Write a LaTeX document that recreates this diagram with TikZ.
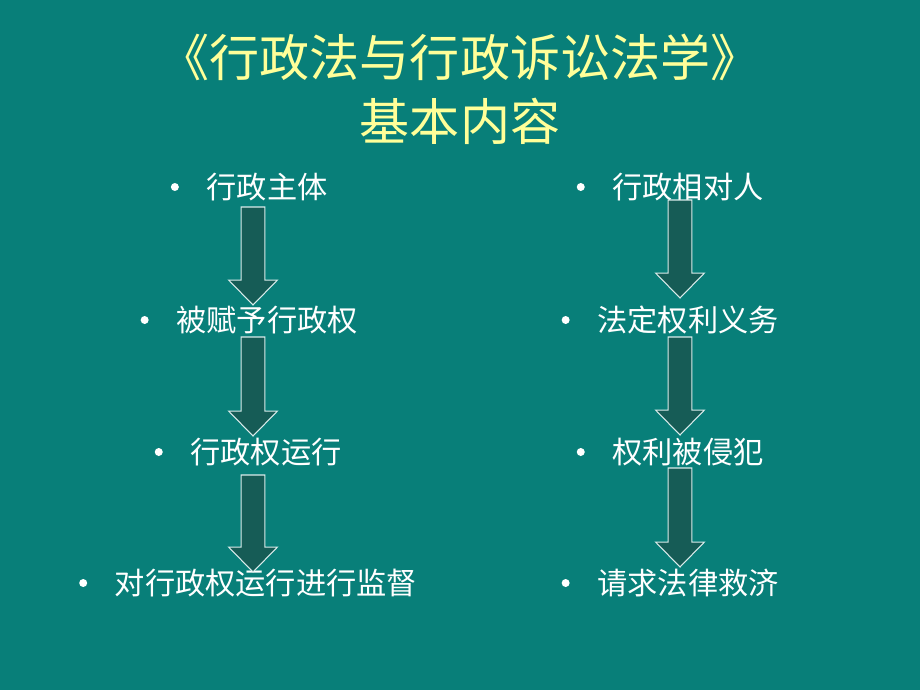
\documentclass[tikz,border=0pt]{standalone}
\usepackage{fontspec}
\newfontfamily\cjk{Noto Sans CJK SC}
\usepackage{tikz}
\usetikzlibrary{positioning,calc}

\definecolor{slidebg}{RGB}{8,127,121}
\definecolor{arrowfill}{RGB}{22,92,86}
\definecolor{titleyellow}{RGB}{255,255,153}

\tikzset{
  titletext/.style={text=titleyellow,font=\cjk\fontsize{28.5pt}{34pt}\selectfont,inner sep=0pt},
  itemtext/.style={text=white,font=\cjk\fontsize{17.2pt}{20pt}\selectfont,inner sep=0pt},
  itembullet/.style={circle,fill=white,minimum size=0.16cm,inner sep=0pt},
  blockarrow/.style={fill=arrowfill,draw=white!85!slidebg,line width=0.6pt,line join=miter}
}

% block arrow pointing down, from shaft top (#1) to tip (#2)
\newcommand{\blockarrow}[2]{%
  \filldraw[blockarrow] let \p1=(#1), \p2=(#2) in
  (\x1-6.8pt,\y1) -- (\x1+6.8pt,\y1) --
  (\x1+6.8pt,\y2+14.2pt) -- (\x1+13.9pt,\y2+14.2pt) --
  (\x1,\y2) --
  (\x1-13.9pt,\y2+14.2pt) -- (\x1-6.8pt,\y2+14.2pt) -- cycle;
}

\begin{document}
\begin{tikzpicture}[x=0.02cm,y=-0.02cm]
      % background
      \fill[slidebg] (0,0) rectangle (920,690);
      \useasboundingbox (0,0) rectangle (920,690);

      % title
      \node[titletext] (title1) at (460,57) {《行政法与行政诉讼法学》};
      \node[titletext] (title2) at (460,121) {基本内容};

      % left column
      \node[itemtext] (subj)   at (267,187) {行政主体};
      \node[itemtext] (power)  at (267,320) {被赋予行政权};
      \node[itemtext] (run)    at (266,452) {行政权运行};
      \node[itemtext] (watch)  at (266,583) {对行政权运行进行监督};

      % right column
      \node[itemtext] (party)  at (688,187) {行政相对人};
      \node[itemtext] (rights) at (688,320) {法定权利义务};
      \node[itemtext] (harm)   at (688,452) {权利被侵犯};
      \node[itemtext] (remedy) at (688,583) {请求法律救济};

      % bullets
      \foreach \item in {subj,power,run,watch,party,rights,harm,remedy}
               {
                 \node[itembullet,left=0.54cm of \item] (dot-\item) {};
               }

      % left arrows
      \coordinate (la1) at (253,207);
      \coordinate (lb1) at (253,305);
      \coordinate (la2) at (253,337);
      \coordinate (lb2) at (253,436);
      \coordinate (la3) at (253,475);
      \coordinate (lb3) at (253,572);

      % right arrows
      \coordinate (ra1) at (680,200);
      \coordinate (rb1) at (680,298);
      \coordinate (ra2) at (680,337);
      \coordinate (rb2) at (680,435);
      \coordinate (ra3) at (680,468);
      \coordinate (rb3) at (680,567);

      \foreach \k in {1,2,3}
               {
                 \blockarrow{la\k}{lb\k}
                 \blockarrow{ra\k}{rb\k}
               }
\end{tikzpicture}
\end{document}
